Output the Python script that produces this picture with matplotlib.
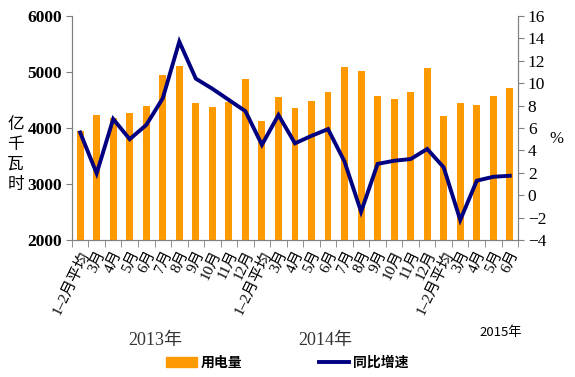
import matplotlib
matplotlib.use('Agg')
import matplotlib.pyplot as plt
from matplotlib.lines import Line2D
from matplotlib.patches import Patch
import numpy as np

months = ['1–2月平均', '3月', '4月', '5月', '6月', '7月', '8月', '9月', '10月', '11月', '12月']
labels = months + months + months[:5]

usage = [3950, 4230, 4175, 4270, 4385, 4940, 5100, 4440, 4375, 4470, 4875,
         4120, 4548, 4350, 4488, 4637, 5090, 5025, 4566, 4512, 4637, 5078,
         4220, 4440, 4417, 4566, 4714]
growth = [5.6, 1.95, 6.8, 5.0, 6.27, 8.65, 13.7, 10.4, 9.5, 8.5, 7.5,
          4.5, 7.16, 4.63, 5.3, 5.9, 3.0, -1.47, 2.8, 3.08, 3.23, 4.13,
          2.49, -2.21, 1.3, 1.65, 1.74]
years = ['2013年', '2014年', '2015年']

serif = ['Liberation Serif', 'Noto Sans CJK SC']
cjk = ['Noto Sans CJK SC', 'DejaVu Sans']
grey = '#808080'

fig = plt.figure(figsize=(5.75, 3.77), dpi=100)
ax = fig.add_axes([0.125, 0.363, 0.776, 0.595])
x = np.arange(len(labels))
ax.bar(x, usage, width=0.42, color='#FF9900', bottom=0)
ax.set_ylim(2000, 6000)
ax.set_xlim(-0.5, len(labels) - 0.5)
ax.set_yticks([2000, 3000, 4000, 5000, 6000])
for t in ax.get_yticklabels():
    t.set_family(serif)
    t.set_fontweight('bold')
    t.set_fontsize(12.5)

ax.set_xticks(x)
ax.set_xticklabels(labels, rotation=64, ha='right', rotation_mode='anchor',
                   family=serif, fontsize=11)
ax.set_xticks(np.arange(-0.5, len(labels)), minor=True)
ax.tick_params(axis='x', which='major', length=0, pad=6)
ax.tick_params(axis='x', which='minor', length=5, color=grey, direction='out')
ax.tick_params(axis='y', length=4, color=grey, direction='out', pad=3)
for s in ['left', 'bottom', 'right']:
    ax.spines[s].set_color(grey)
ax.spines['top'].set_visible(False)

ax2 = ax.twinx()
ax2.plot(x, growth, color='#000080', lw=2.8, solid_joinstyle='miter')
ax2.set_ylim(-4, 16)
ax2.set_yticks(range(-4, 17, 2))
ax2.set_yticklabels([str(v).replace('-', '−') for v in range(-4, 17, 2)],
                    family=serif, fontsize=12.5)
ax2.tick_params(axis='y', length=4, color=grey, direction='out', pad=3)
for s in ['left', 'bottom', 'right']:
    ax2.spines[s].set_color(grey)
ax2.spines['top'].set_visible(False)

fig.text(0.027, 0.59, '亿\n千\n瓦\n时', family=cjk, fontsize=12, va='center',
         ha='center', linespacing=1.25)
fig.text(0.968, 0.63, '%', family=serif, fontsize=12, va='center', ha='center')

fig.text(0.27, 0.098, years[0], family=serif, fontsize=13, ha='center', va='center', color='#333333')
fig.text(0.565, 0.098, years[1], family=serif, fontsize=13, ha='center', va='center', color='#333333')
fig.text(0.87, 0.117, years[2], family=cjk, fontsize=9.5, ha='center', va='center')

handles = [Patch(color='#FF9900'), Line2D([], [], color='#000080', lw=2.8)]
leg = fig.legend(handles, ['用电量', '同比增速'], loc='center', ncol=2,
                 bbox_to_anchor=(0.5, 0.037), frameon=False, columnspacing=5.5,
                 handlelength=2.2, handletextpad=0.3, prop={'family': cjk, 'size': 10, 'weight': 'bold'})

fig.savefig('out.png', dpi=100)
